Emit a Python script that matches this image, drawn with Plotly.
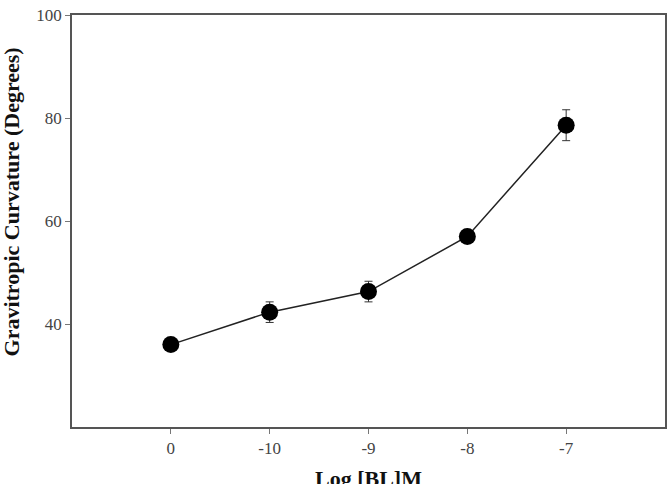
import plotly.graph_objects as go

categories = ["0", "-10", "-9", "-8", "-7"]
positions = [1, 2, 3, 4, 5]
curvature = [36.0, 42.3, 46.3, 57.0, 78.6]
errors = [0.8, 2.0, 2.0, 0.8, 3.0]

fig = go.Figure()
fig.add_trace(go.Scatter(
    x=positions, y=curvature,
    mode="lines+markers",
    line=dict(color="#222222", width=1.5),
    marker=dict(color="black", size=17),
    error_y=dict(type="data", array=errors, visible=True, color="#333333", thickness=1, width=4),
    showlegend=False,
))

fig.update_layout(
    width=668, height=484,
    margin=dict(l=72, r=3, t=15, b=57),
    paper_bgcolor="white", plot_bgcolor="white",
    font=dict(family="Liberation Serif", size=17, color="#444444"),
)
fig.add_annotation(
    text="<b>Log [BL]M</b>", xref="paper", yref="paper", x=0.5, y=0,
    xanchor="center", yanchor="top", yshift=-37, showarrow=False,
    font=dict(family="Liberation Serif", size=22, color="#111111"),
)
fig.add_annotation(
    text="<b>Gravitropic Curvature (Degrees)</b>", xref="paper", yref="paper",
    x=0, y=0.545, xshift=-61, xanchor="center", yanchor="middle",
    textangle=-90, showarrow=False,
    font=dict(family="Liberation Serif", size=22, color="#111111"),
)
fig.update_xaxes(
    range=[0, 6], tickvals=positions, ticktext=categories,
    showgrid=False, zeroline=False,
    showline=True, linecolor="#555555", linewidth=1.5, mirror=True,
    ticks="outside", ticklen=5, tickcolor="#777777",
    tickfont=dict(size=17, color="#444444"),
    automargin=False,
)
fig.update_yaxes(
    range=[20, 100], tickvals=[40, 60, 80, 100],
    showgrid=False, zeroline=False,
    showline=True, linecolor="#555555", linewidth=1.5, mirror=True,
    ticks="outside", ticklen=5, tickcolor="#777777",
    tickfont=dict(size=17, color="#444444"),
    automargin=False,
)

fig.write_html("out.html")
